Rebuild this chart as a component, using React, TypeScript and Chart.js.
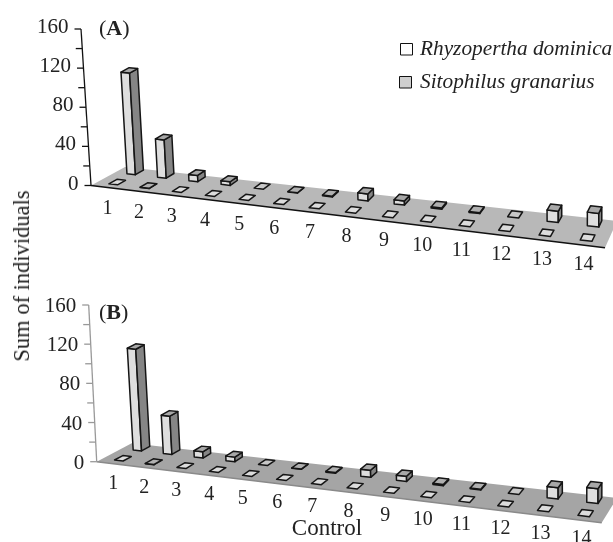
import React, { useEffect, useRef } from "react";
import { Chart, registerables } from "chart.js";

Chart.register(...registerables);

const categories = ["1", "2", "3", "4", "5", "6", "7", "8", "9", "10", "11", "12", "13", "14"];
const rhyzoperthaA = [0, 0.3, 0, 0, 0, 0, 0, 0, 0, 0, 0, 0, 0, 0];
const sitophilusA = [120, 44, 7, 4, 0, 0.3, 0.8, 7, 4, 1.2, 0.8, 0, 10, 12];
const rhyzoperthaB = [0, 0.3, 0, 0, 0, 0, 0, 0, 0, 0, 0, 0, 0, 0];
const sitophilusB = [120, 44, 7, 5, 0, 0.3, 0.8, 7, 5, 1.2, 0.8, 0, 10, 13];
const tickLabels = [0, 40, 80, 120, 160];
const seriesNames = ["Rhyzopertha dominica", "Sitophilus granarius"];

const SERIF = '"Liberation Serif", serif';
type Pt = { x: number; y: number };
type Panel = {
  tag: string;
  top: number;
  floor: [Pt, Pt, Pt, Pt];
  axisTop: Pt;
  axisBottom: Pt;
  axisColor: string;
  edgeColor: string;
  edgeWidth: number;
  floorColor: string;
  tagPos: Pt;
  paddingTop: number;
  paddingBottom: number;
  labelDy: number;
  tickLabelDy: number;
};

const panelA: Panel = {
  tag: "A",
  top: 0,
  floor: [{ x: 91, y: 185.5 }, { x: 605, y: 247.7 }, { x: 617, y: 221 }, { x: 125, y: 167 }],
  axisTop: { x: 81, y: 29 },
  axisBottom: { x: 91, y: 185.5 },
  axisColor: "#111",
  edgeColor: "#111",
  edgeWidth: 1.6,
  floorColor: "#b8b8b8",
  tagPos: { x: 99, y: 29 },
  paddingTop: 29,
  paddingBottom: 271 - 185.5,
  labelDy: 27,
  tickLabelDy: -1.5,
};
const panelB: Panel = {
  tag: "B",
  top: 271,
  floor: [{ x: 96.7, y: 190.7 }, { x: 601.7, y: 251.7 }, { x: 617, y: 227 }, { x: 131.7, y: 172.3 }],
  axisTop: { x: 88.7, y: 34 },
  axisBottom: { x: 96.7, y: 190.7 },
  axisColor: "#999",
  edgeColor: "#8a8a8a",
  edgeWidth: 1.6,
  floorColor: "#a5a5a5",
  tagPos: { x: 99, y: 42 },
  paddingTop: 34,
  paddingBottom: 271 - 190.7,
  labelDy: 25.5,
  tickLabelDy: 1.5,
};

const warp = (p: number) => 0.002 + 0.84 * p + 0.158 * p * p;
const FRONT_ROW = 0.29;
const BACK_ROW = 0.83;
const HALF_DEPTH = 0.12;

function project(q: Panel["floor"], p: number, v: number): Pt {
  const s = warp(p);
  const lx = q[0].x + (q[3].x - q[0].x) * v;
  const ly = q[0].y + (q[3].y - q[0].y) * v;
  const rx = q[1].x + (q[2].x - q[1].x) * v;
  const ry = q[1].y + (q[2].y - q[1].y) * v;
  return { x: lx + (rx - lx) * s, y: ly + (ry - ly) * s };
}

function poly(ctx: CanvasRenderingContext2D, pts: Pt[], fill: string) {
  ctx.beginPath();
  pts.forEach((pt, i) => (i ? ctx.lineTo(pt.x, pt.y) : ctx.moveTo(pt.x, pt.y)));
  ctx.closePath();
  ctx.fillStyle = fill;
  ctx.fill();
  ctx.stroke();
}

function drawBox(
  ctx: CanvasRenderingContext2D,
  panel: Panel,
  p: number,
  halfP: number,
  row: number,
  rise: number,
  flatFill: string
) {
  const q = panel.floor;
  const a = project(q, p - halfP, row - HALF_DEPTH);
  const b = project(q, p + halfP, row - HALF_DEPTH);
  const c = project(q, p + halfP, row + HALF_DEPTH);
  const d = project(q, p - halfP, row + HALF_DEPTH);
  const lift = (pt: Pt): Pt => ({ x: pt.x - ((590 - pt.x) / 7900) * rise, y: pt.y - rise });
  ctx.strokeStyle = "#151515";
  ctx.lineWidth = 1.5;
  ctx.lineJoin = "round";
  if (rise <= 0) {
    poly(ctx, [a, b, c, d], flatFill);
    return;
  }
  poly(ctx, [a, b, lift(b), lift(a)], "#dedede");
  poly(ctx, [b, c, lift(c), lift(b)], "#858585");
  poly(ctx, [lift(a), lift(b), lift(c), lift(d)], rise < 3 ? "#b0b0b0" : "#a8a8a8");
}

const scenePlugin = {
  id: "scene",
  beforeDatasetsDraw(chart: any) {
    const panel: Panel = chart.options.plugins.scene.panel;
    const { ctx, scales } = chart;
    const xs = scales.x;
    const ys = scales.y;
    const q = panel.floor;
    ctx.save();

    // floor
    ctx.beginPath();
    q.forEach((pt, i) => (i ? ctx.lineTo(pt.x, pt.y) : ctx.moveTo(pt.x, pt.y)));
    ctx.closePath();
    ctx.fillStyle = panel.floorColor;
    ctx.fill();
    ctx.beginPath();
    ctx.moveTo(q[0].x, q[0].y);
    ctx.lineTo(q[1].x, q[1].y);
    ctx.strokeStyle = panel.edgeColor;
    ctx.lineWidth = panel.edgeWidth;
    ctx.stroke();

    // slanted value axis
    const axisX = (y: number) =>
      panel.axisBottom.x +
      ((y - panel.axisBottom.y) * (panel.axisTop.x - panel.axisBottom.x)) / (panel.axisTop.y - panel.axisBottom.y);
    ctx.beginPath();
    ctx.moveTo(panel.axisTop.x, panel.axisTop.y);
    ctx.lineTo(panel.axisBottom.x, panel.axisBottom.y);
    ctx.strokeStyle = panel.axisColor;
    ctx.lineWidth = 1.3;
    ctx.stroke();
    ctx.font = `21px ${SERIF}`;
    ctx.fillStyle = "#222";
    ctx.textAlign = "right";
    ctx.textBaseline = "middle";
    ys.ticks.forEach((t: any) => {
      const y = ys.getPixelForValue(t.value);
      const x = axisX(y);
      ctx.beginPath();
      ctx.moveTo(x, y);
      ctx.lineTo(x - 6.5, y);
      ctx.stroke();
      if (tickLabels.includes(t.value)) ctx.fillText(String(t.value), x - 12.5, y + panel.tickLabelDy);
    });

    // category labels and bars
    const W = xs.right - xs.left;
    const band = (xs.getPixelForValue(1) - xs.getPixelForValue(0)) / W;
    const halfP = band * 0.14;
    const position = (i: number) => (xs.getPixelForValue(i) - xs.left) / W;
    const riseOf = (val: number, p: number) =>
      ((ys.getPixelForValue(0) - ys.getPixelForValue(val)) * 0.865 * (0.84 + 0.316 * p)) / 0.851;

    ctx.font = `20px ${SERIF}`;
    ctx.textAlign = "center";
    ctx.fillStyle = "#222";
    categories.forEach((label, i) => {
      const p = position(i);
      const m = project(q, p, FRONT_ROW);
      ctx.fillText(label, m.x - 10 + 6 * p, m.y + panel.labelDy);
    });

    const [front, back] = chart.data.datasets;
    categories.forEach((_, i) => {
      const p = position(i);
      drawBox(ctx, panel, p, halfP, BACK_ROW, riseOf(back.data[i], p), "#c8c8c8");
    });
    categories.forEach((_, i) => {
      const p = position(i);
      drawBox(ctx, panel, p, halfP, FRONT_ROW, riseOf(front.data[i], p), "#dcdcdc");
    });

    // panel tag
    ctx.textAlign = "left";
    ctx.fillStyle = "#222";
    let x = panel.tagPos.x;
    ctx.font = `22px ${SERIF}`;
    ctx.fillText("(", x, panel.tagPos.y);
    x += ctx.measureText("(").width;
    ctx.font = `bold 22px ${SERIF}`;
    ctx.fillText(panel.tag, x, panel.tagPos.y);
    x += ctx.measureText(panel.tag).width;
    ctx.font = `22px ${SERIF}`;
    ctx.fillText(")", x, panel.tagPos.y);

    if (panel.tag === "A") {
      // legend
      ctx.strokeStyle = "#111";
      ctx.lineWidth = 1;
      ctx.fillStyle = "#fff";
      ctx.fillRect(400.5, 43.5, 12, 11.5);
      ctx.strokeRect(400.5, 43.5, 12, 11.5);
      ctx.fillStyle = "#cfcfcf";
      ctx.fillRect(399.5, 76.5, 12, 11.5);
      ctx.strokeRect(399.5, 76.5, 12, 11.5);
      ctx.fillStyle = "#222";
      ctx.font = `italic 21.3px ${SERIF}`;
      ctx.fillText(seriesNames[0], 420, 49.5);
      ctx.fillText(seriesNames[1], 420, 82);
    } else {
      ctx.font = `23px ${SERIF}`;
      ctx.textAlign = "center";
      ctx.fillText("Control", 327, 529 - panel.top);
    }
    ctx.restore();
  },
};

function PanelChart({ panel, front, back }: { panel: Panel; front: number[]; back: number[] }) {
  const ref = useRef<HTMLCanvasElement | null>(null);
  useEffect(() => {
    if (!ref.current) return;
    const chart = new Chart(ref.current, {
      type: "bar",
      data: {
        labels: categories,
        datasets: [
          { label: seriesNames[0], data: front, backgroundColor: "transparent", borderWidth: 0 },
          { label: seriesNames[1], data: back, backgroundColor: "transparent", borderWidth: 0 },
        ],
      },
      options: {
        responsive: false,
        animation: false,
        layout: { padding: { top: panel.paddingTop, bottom: panel.paddingBottom, left: 0, right: 0 } },
        scales: {
          x: { display: false },
          y: { display: false, min: 0, max: 160, ticks: { stepSize: 20 } },
        },
        plugins: {
          legend: { display: false },
          tooltip: { enabled: false },
          scene: { panel },
        },
      } as any,
      plugins: [scenePlugin],
    });
    return () => chart.destroy();
  }, [panel, front, back]);
  return (
    <canvas
      ref={ref}
      width={613}
      height={271}
      style={{ position: "absolute", left: 0, top: panel.top, width: 613, height: 271 }}
    />
  );
}

export default function App() {
  return (
    <div style={{ position: "absolute", left: 0, top: 0, width: 613, height: 542, overflow: "hidden", background: "#fff" }}>
      <PanelChart panel={panelA} front={rhyzoperthaA} back={sitophilusA} />
      <PanelChart panel={panelB} front={rhyzoperthaB} back={sitophilusB} />
      <div
        style={{
          position: "absolute",
          left: 22,
          top: 276,
          transform: "translate(-50%,-50%) rotate(-90deg)",
          whiteSpace: "nowrap",
          font: `22.5px ${SERIF}`,
          color: "#222",
        }}
      >
        Sum of individuals
      </div>
    </div>
  );
}
